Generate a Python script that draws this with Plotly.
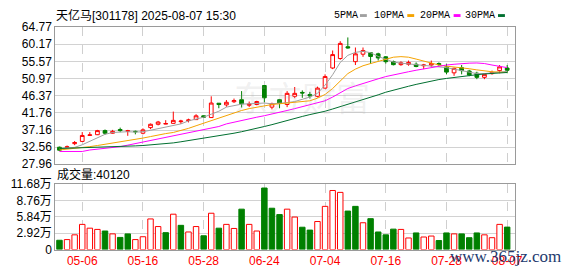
import plotly.graph_objects as go

W, H = 578, 276

title_text = "天亿马[301178] 2025-08-07 15:30"
vol_label = "成交量:40120"

dates = ["2025-04-28", "2025-04-29", "2025-04-30", "2025-05-06", "2025-05-07", "2025-05-08", "2025-05-09",
         "2025-05-12", "2025-05-13", "2025-05-14", "2025-05-15", "2025-05-16", "2025-05-19", "2025-05-20",
         "2025-05-21", "2025-05-22", "2025-05-23", "2025-05-26", "2025-05-27", "2025-05-28", "2025-05-29",
         "2025-05-30", "2025-06-17", "2025-06-18", "2025-06-19", "2025-06-20", "2025-06-23", "2025-06-24",
         "2025-06-25", "2025-06-26", "2025-06-27", "2025-06-30", "2025-07-01", "2025-07-02", "2025-07-03",
         "2025-07-04", "2025-07-07", "2025-07-08", "2025-07-09", "2025-07-10", "2025-07-11", "2025-07-14",
         "2025-07-15", "2025-07-16", "2025-07-17", "2025-07-18", "2025-07-21", "2025-07-22", "2025-07-23",
         "2025-07-24", "2025-07-25", "2025-07-28", "2025-07-29", "2025-07-30", "2025-07-31", "2025-08-01",
         "2025-08-04", "2025-08-05", "2025-08-06", "2025-08-07"]

opens = [32.55, 32.5, 33.5, 34.1, 35.7, 35.9, 37.0, 36.3, 37.3, 36.85,
         36.8, 36.3, 37.8, 38.7, 38.75, 38.95, 39.4, 39.7, 39.95, 40.97,
         40.5, 44.35, 43.9, 44.75, 45.3, 43.8, 44.0, 49.1, 43.3, 45.3,
         44.0, 46.2, 47.25, 46.7, 46.2, 48.4, 53.8, 56.35, 59.5, 55.5,
         57.5, 57.9, 57.6, 56.8, 55.5, 54.7, 54.8, 54.8, 54.4, 54.6,
         55.0, 54.1, 52.5, 53.9, 53.0, 52.4, 51.3, 52.3, 53.1, 53.8]
highs = [32.7, 33.0, 34.2, 36.6, 36.6, 37.2, 37.3, 37.2, 37.8, 37.2,
         37.0, 37.6, 38.9, 39.6, 39.8, 42.1, 39.9, 40.2, 41.4, 41.1,
         46.2, 44.4, 45.2, 45.6, 47.6, 44.8, 45.0, 49.2, 44.5, 45.5,
         47.6, 48.7, 47.8, 47.4, 48.8, 52.1, 58.5, 61.0, 62.0, 59.3,
         59.3, 58.0, 57.9, 57.0, 55.8, 55.6, 55.8, 55.3, 54.9, 55.8,
         55.3, 54.9, 53.9, 54.6, 53.3, 52.8, 52.3, 53.1, 54.6, 54.6]
lows = [31.5, 32.3, 33.1, 34.0, 35.7, 35.8, 35.9, 36.2, 36.6, 35.6,
        36.0, 36.0, 37.4, 38.4, 38.7, 38.9, 38.8, 39.2, 39.9, 40.4,
        40.4, 43.0, 43.4, 44.4, 43.2, 43.3, 43.8, 44.6, 42.7, 43.0,
        43.3, 45.7, 45.8, 45.6, 45.9, 48.3, 53.5, 56.0, 59.0, 54.6,
        56.8, 54.9, 55.8, 55.0, 54.5, 54.4, 54.4, 54.0, 53.5, 54.1,
        54.4, 52.1, 51.7, 52.1, 51.6, 50.8, 50.8, 52.0, 52.4, 52.4]
closes = [31.75, 32.65, 33.8, 35.7, 35.85, 37.0, 36.3, 36.8, 37.0, 36.95,
          36.7, 37.2, 38.7, 39.3, 38.9, 39.75, 39.55, 39.85, 40.97, 40.6,
          44.4, 44.0, 44.6, 45.05, 44.2, 44.1, 44.8, 45.8, 44.2, 44.3,
          47.0, 47.0, 47.1, 46.3, 48.4, 51.5, 57.4, 60.4, 59.2, 57.6,
          58.5, 56.9, 56.5, 55.5, 54.7, 55.2, 55.3, 54.2, 54.6, 55.0,
          54.7, 52.7, 53.7, 53.1, 51.9, 51.3, 52.1, 52.6, 54.1, 53.2]

# volume in 万 (10k shares)
volumes = [1.66, 1.78, 2.63, 4.50, 3.82, 3.60, 3.31, 2.80, 2.17, 2.80,
           1.78, 2.29, 5.47, 4.11, 3.02, 6.32, 4.33, 3.14, 4.11, 2.46,
           6.49, 3.82, 4.50, 3.77, 7.22, 4.50, 3.31, 11.0, 7.39, 6.25,
           7.22, 5.81, 3.99, 3.48, 5.01, 7.72, 10.56, 10.22, 6.88, 7.72,
           4.79, 5.52, 3.14, 2.63, 3.65, 3.60, 2.07, 2.97, 2.24, 2.41,
           1.61, 2.97, 2.80, 2.80, 2.12, 2.97, 2.63, 2.12, 4.50, 4.012]
vol_dir = list("grrrrrgrggrrrrgrgrrgrgrrgrrgggrrggrrrrggrggggrrgrrggrgggrrrg")

ma5 = [32.2, 32.3, 32.5, 33.2, 34.1, 35.2, 36.0, 36.5, 36.6, 36.7,
       36.6, 36.7, 37.1, 37.5, 38.0, 38.4, 38.8, 39.6, 40.1, 40.6,
       41.4, 42.2, 43.3, 43.8, 44.1, 44.2, 44.3, 44.4, 44.2, 44.3,
       44.5, 44.8, 45.3, 46.0, 47.0, 49.2, 52.0, 55.3, 57.2, 58.0,
       58.3, 57.9, 56.9, 56.2, 55.4, 55.1, 54.9, 54.8, 54.6, 54.4,
       54.2, 53.9, 53.5, 53.1, 52.6, 52.3, 52.3, 52.5, 52.7, 52.9]
ma10 = [31.8, 32.0, 32.2, 32.4, 32.7, 33.0, 33.3, 33.7, 34.1, 34.4,
        34.7, 35.0, 35.4, 35.9, 36.2, 36.5, 37.0, 37.6, 38.3, 39.0,
        39.6, 40.4, 41.2, 41.8, 42.4, 42.9, 43.3, 43.7, 44.0, 44.2,
        44.4, 44.6, 44.8, 45.0, 45.7, 46.7, 48.3, 50.2, 52.3, 53.5,
        54.4, 55.0, 55.6, 56.2, 56.7, 56.85, 56.7, 56.2, 55.6, 55.0,
        54.6, 54.3, 54.1, 53.9, 53.6, 53.3, 53.0, 52.8, 52.7, 52.6]
ma20 = [31.4, 31.4, 31.4, 31.4, 31.8, 32.0, 32.2, 32.4, 32.7, 33.1,
        33.5, 34.0, 34.5, 34.9, 35.2, 35.5, 35.9, 36.3, 36.7, 37.1,
        37.6, 38.1, 38.8, 39.3, 39.7, 40.1, 40.6, 41.0, 41.4, 41.9,
        42.4, 42.9, 43.4, 43.8, 44.3, 45.0, 46.0, 47.2, 48.3, 49.0,
        49.7, 50.3, 50.9, 51.5, 52.0, 52.4, 52.8, 53.2, 53.6, 54.0,
        54.3, 54.6, 54.8, 55.0, 55.1, 55.15, 55.0, 54.6, 54.2, 53.9]
ma30 = [32.2, 32.25, 32.3, 32.35, 32.4, 32.45, 32.5, 32.6, 32.7, 32.8,
        32.9, 33.0, 33.15, 33.3, 33.5, 33.7, 34.0, 34.3, 34.6, 34.9,
        35.2, 35.55, 35.9, 36.3, 36.7, 37.1, 37.6, 38.1, 38.6, 39.2,
        39.8, 40.3, 40.8, 41.3, 41.7, 42.2, 42.8, 43.4, 44.0, 44.6,
        45.2, 45.8, 46.6, 47.3, 47.9, 48.4, 48.9, 49.4, 49.9, 50.3,
        50.7, 51.0, 51.3, 51.6, 51.8, 52.0, 52.2, 52.35, 52.5, 52.6]

price_ticks = ["27.96", "32.56", "37.16", "41.76", "46.37", "50.97", "55.57", "60.17", "64.77"]
vol_ticks = [0, 2.92, 5.84, 8.76, 11.68]
vol_tick_text = ["0", "2.92万", "5.84万", "8.76万", "11.68万"]
date_ticks = ["2025-05-06", "2025-05-16", "2025-05-28", "2025-06-24", "2025-07-04",
              "2025-07-16", "2025-07-28", "2025-08-07"]

ma_names = ["5PMA", "10PMA", "20PMA", "30PMA"]
ma_colors = ["#a0a0a0", "#f5a300", "#ff00ff", "#006f30"]

RED = "#ff0000"
GREEN = "#008000"
FONT = "Liberation Sans, Noto Sans CJK SC, sans-serif"
MONO = "Liberation Mono, DejaVu Sans Mono, monospace"


def px(x):
    return x / W


def py(y):
    return 1 - y / H


fig = go.Figure()

for name, vals, col in zip(ma_names, [ma5, ma10, ma20, ma30], ma_colors):
    fig.add_trace(go.Scatter(x=dates, y=vals, mode="lines", name=name,
                             line=dict(color=col, width=1), xaxis="x", yaxis="y",
                             hoverinfo="skip", showlegend=False))

fig.add_trace(go.Candlestick(
    x=dates, open=opens, high=highs, low=lows, close=closes,
    increasing=dict(line=dict(color=RED, width=1), fillcolor="#ffffff"),
    decreasing=dict(line=dict(color=GREEN, width=1), fillcolor=GREEN),
    xaxis="x", yaxis="y", showlegend=False, whiskerwidth=0))

bar_fill = ["#ffffff" if d == "r" else GREEN for d in vol_dir]
bar_line = [RED if d == "r" else GREEN for d in vol_dir]
fig.add_trace(go.Bar(x=dates, y=volumes, width=0.72,
                     marker=dict(color=bar_fill, line=dict(color=bar_line, width=1)),
                     xaxis="x2", yaxis="y2", showlegend=False))

x_dom = [px(56), px(522)]
xrange = [-0.56, 60.0]
common_x = dict(type="category", range=xrange, domain=x_dom, tickvals=date_ticks,
                showgrid=True, gridcolor="#cfcfcf", griddash="dash", gridwidth=1,
                showline=True, linecolor="#9a9a9a", linewidth=1, mirror=True,
                ticks="", fixedrange=True, zeroline=False)

fig.update_layout(
    width=W, height=H,
    margin=dict(l=0, r=0, t=0, b=0),
    paper_bgcolor="#ffffff", plot_bgcolor="#ffffff",
    font=dict(family=FONT, size=12, color="#000000"),
    boxgap=0.3,
    xaxis=dict(**common_x, anchor="y", showticklabels=False,
               rangeslider=dict(visible=False)),
    xaxis2=dict(**common_x, anchor="y2", showticklabels=True,
                ticktext=[d[5:] for d in date_ticks],
                tickfont=dict(color=RED, size=12, family=FONT)),
    yaxis=dict(domain=[py(165.7), py(21.2)], range=[27.96, 64.77],
               tickvals=[float(t) for t in price_ticks], ticktext=price_ticks,
               showgrid=True, gridcolor="#d2d2d2", gridwidth=1,
               showline=True, linecolor="#9a9a9a", mirror=True, ticks="",
               zeroline=False, tickfont=dict(size=12, color="#000000")),
    yaxis2=dict(domain=[py(255.5), py(186.7)], range=[0, 11.68],
                tickvals=vol_ticks, ticktext=vol_tick_text,
                showgrid=True, gridcolor="#d2d2d2", gridwidth=1,
                showline=True, linecolor="#9a9a9a", mirror=True, ticks="",
                zeroline=False, tickfont=dict(size=12, color="#000000")),
)

annotations = [
    dict(text=title_text, x=px(55), y=py(8.5), xanchor="left", yanchor="middle",
         font=dict(size=12, color="#000000", family=FONT)),
    dict(text=vol_label, x=px(56), y=py(176.5), xanchor="left", yanchor="middle",
         font=dict(size=12, color="#000000", family=FONT)),
    dict(text="东方财富", x=px(306), y=py(94), xanchor="center", yanchor="middle",
         font=dict(size=34, color="rgba(170,170,170,0.18)", family="Noto Sans CJK SC")),
    dict(text="www.365jz.com", x=px(513), y=py(263), xanchor="center", yanchor="middle",
         font=dict(size=17, color="#233a6e", family="Liberation Serif")),
]
legend_text_x = [350.5, 394.7, 440.8, 486.7]
legend_mark_x = [365, 413, 460, 505]
shapes = []
for name, col, tx, mx in zip(ma_names, ma_colors, legend_text_x, legend_mark_x):
    annotations.append(dict(text=name, x=px(tx), y=py(8.5), xanchor="center", yanchor="middle",
                            font=dict(size=10, color="#000000", family=MONO)))
    shapes.append(dict(type="rect", xref="paper", yref="paper",
                       x0=px(mx), x1=px(mx + 7), y0=py(10.5), y1=py(7.5),
                       fillcolor=col, line=dict(width=0)))

for a in annotations:
    a.update(xref="paper", yref="paper", showarrow=False)

fig.update_layout(annotations=annotations, shapes=shapes)

fig.write_html("out.html")
